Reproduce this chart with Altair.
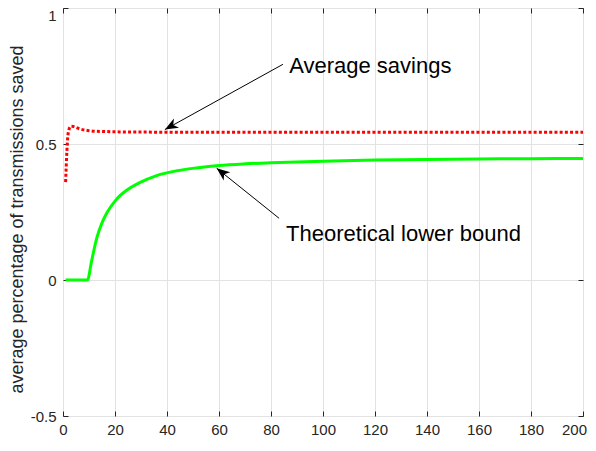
import math
import altair as alt
import pandas as pd

# ---- data ----
savings_x = [1, 2, 3, 4, 5, 6, 8, 10, 12, 15, 20, 25, 30, 40, 50, 60, 80, 100, 120, 140, 160, 180, 200]
savings_y = [0.36, 0.54, 0.565, 0.564, 0.561, 0.557, 0.552, 0.549, 0.547, 0.546, 0.545, 0.544, 0.544, 0.543,
             0.543, 0.543, 0.543, 0.543, 0.543, 0.543, 0.543, 0.543, 0.543]

bound_x = [1, 9.4, 11, 13, 15, 17, 20, 22, 24.5, 29.5, 36, 44, 52, 60, 70, 80, 100, 120, 140, 160, 180, 200]
bound_y = [0.0, 0.0, 0.07, 0.155, 0.21, 0.249, 0.29, 0.311, 0.33, 0.358, 0.384, 0.402, 0.413, 0.421, 0.427,
           0.431, 0.437, 0.441, 0.443, 0.445, 0.446, 0.447]

ann_text = ["Average savings", "Theoretical lower bound"]
ann_text_x = [87.0, 85.8]
ann_text_y = [0.788, 0.169]
arrow_x0 = [84.6, 83.1]
arrow_y0 = [0.793, 0.227]
arrow_x1 = [39.2, 59.1]
arrow_y1 = [0.553, 0.411]

x_ticks = [0, 20, 40, 60, 80, 100, 120, 140, 160, 180, 200]
y_ticks = [-0.5, 0, 0.5, 1]
y_title = "average percentage of transmissions saved"

# ---- layout ----
W, H = 520, 408
X_DOM, Y_DOM = [0, 200], [-0.5, 1]
FONT = "Liberation Sans"
AX = "#262626"
GRID = "#e2e2e2"

sx = W / (X_DOM[1] - X_DOM[0])
sy = H / (Y_DOM[1] - Y_DOM[0])


def head_angle(x0, y0, x1, y1):
    dx = (x1 - x0) * sx
    dy = -(y1 - y0) * sy
    return (math.degrees(math.atan2(dx, -dy)) + 360) % 360


df_sav = pd.DataFrame({"x": savings_x, "y": savings_y})
df_bnd = pd.DataFrame({"x": bound_x, "y": bound_y})
df_arr = pd.DataFrame({
    "x0": arrow_x0, "y0": arrow_y0, "x1": arrow_x1, "y1": arrow_y1,
    "ang": [head_angle(a, b, c, d) for a, b, c, d in zip(arrow_x0, arrow_y0, arrow_x1, arrow_y1)],
})
df_txt = pd.DataFrame({"x": ann_text_x, "y": ann_text_y, "t": ann_text})

xs = alt.Scale(domain=X_DOM, nice=False, zero=False)
ys = alt.Scale(domain=Y_DOM, nice=False, zero=False)

lab_expr = "replace(datum.label, '\u2212', '-')"

main_x = alt.Axis(orient="bottom", values=x_ticks, grid=True, gridColor=GRID, domain=False, ticks=False,
                  labelPadding=6, labelFontSize=15, labelFont=FONT, labelColor=AX, title=None,
                  labelFlush=False, labelOverlap=False, format="d",
                  labelOffset={"condition": {"test": f"datum.value == {X_DOM[1]}", "value": -9}, "value": 0})
main_y = alt.Axis(orient="left", values=y_ticks, grid=True, gridColor=GRID, domain=False, ticks=False,
                  labelPadding=7, labelFontSize=15, labelFont=FONT, labelColor=AX, labelExpr=lab_expr,
                  format="~g", labelFlush=False, labelOverlap=False,
                  labelBaseline={"condition": {"test": f"datum.value == {Y_DOM[1]}", "value": "top"},
                                 "value": "middle"},
                  title=y_title, titleFont=FONT, titleFontSize=18, titleFontWeight="normal",
                  titleColor=AX, titlePadding=4, titleY=211)


def tick_axis(orient, vals):
    return alt.Axis(orient=orient, values=vals, grid=False, domain=False, labels=False, ticks=True,
                    tickSize=5, tickColor=AX, tickWidth=1, offset=-5, title=None)


bound = alt.Chart(df_bnd).mark_line(color="#00ff00", strokeWidth=3, interpolate="monotone").encode(
    x=alt.X("x:Q", scale=xs, axis=main_x),
    y=alt.Y("y:Q", scale=ys, axis=main_y),
)

sav = alt.Chart(df_sav).mark_line(color="#ff0000", strokeWidth=3, strokeDash=[3, 2.2],
                                  interpolate="monotone").encode(
    x=alt.X("x:Q", scale=xs, axis=tick_axis("bottom", x_ticks)),
    y=alt.Y("y:Q", scale=ys, axis=tick_axis("left", y_ticks)),
)

arrows = alt.Chart(df_arr).mark_rule(color="black", strokeWidth=1).encode(
    x=alt.X("x0:Q", scale=xs, axis=tick_axis("top", x_ticks)),
    y=alt.Y("y0:Q", scale=ys, axis=tick_axis("right", y_ticks)),
    x2="x1:Q",
    y2="y1:Q",
)

heads = alt.Chart(df_arr).mark_point(
    shape="M0,0 L-0.4,1 L0,0.72 L0.4,1 Z", filled=True, color="black", opacity=1, size=700, strokeWidth=0
).encode(
    x=alt.X("x1:Q", scale=xs, axis=None),
    y=alt.Y("y1:Q", scale=ys, axis=None),
    angle=alt.Angle("ang:Q", scale=None),
)

texts = alt.Chart(df_txt).mark_text(align="left", baseline="middle", fontSize=22, font=FONT,
                                    color="black").encode(
    x=alt.X("x:Q", scale=xs, axis=None),
    y=alt.Y("y:Q", scale=ys, axis=None),
    text="t:N",
)

chart = alt.layer(bound, sav, arrows, heads, texts).resolve_axis(
    x="independent", y="independent"
).properties(
    width=W, height=H,
    autosize=alt.AutoSizeParams(type="none"),
    padding={"left": 55, "top": 0, "right": 5, "bottom": 22},
    background="white",
).configure_view(stroke=AX, strokeWidth=1)

chart.save("out.html", embed_options={"renderer": "svg", "actions": False})
